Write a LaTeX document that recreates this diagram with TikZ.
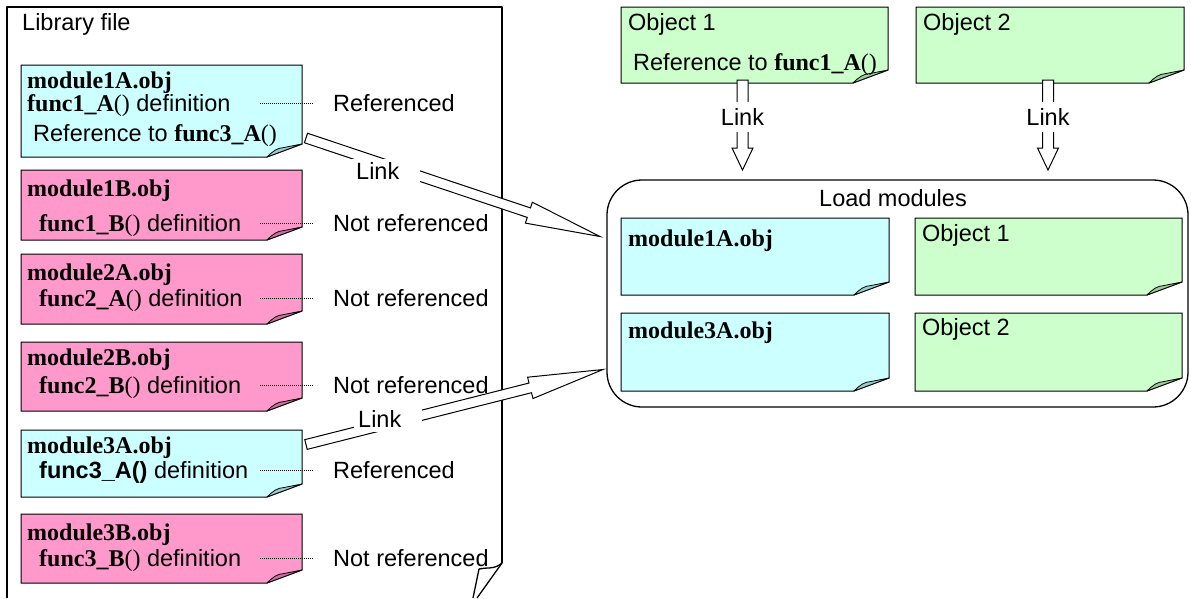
\documentclass[tikz,border=0pt]{standalone}
\usepackage{fontspec}
\setmainfont{Liberation Sans}
\newfontfamily\tms{Liberation Serif}
\usetikzlibrary{calc}

\definecolor{cyanfill}{HTML}{CCFFFF}
\definecolor{cyanflap}{HTML}{99CCCC}
\definecolor{pinkfill}{HTML}{FF99CC}
\definecolor{pinkflap}{HTML}{CC6E9E}
\definecolor{greenfill}{HTML}{CCFFCC}
\definecolor{greenflap}{HTML}{99CC99}

% serif bold / serif regular pieces used inside the sans text
\newcommand\tb[1]{{\tms\fontsize{24}{28}\selectfont\bfseries #1}}
\newcommand\tr[1]{{\tms\fontsize{24}{28}\selectfont #1}}

\tikzset{
  every node/.style={font=\fontsize{23.5}{28}\selectfont},
  notearea/.style={draw=none, inner sep=0pt, outer sep=0pt, anchor=north west},
  lbl/.style={anchor=west, inner sep=0pt, text height=17pt, text depth=0pt},
  dotline/.style={line width=1pt, dash pattern=on 1pt off 1pt},
  frame/.style={line width=1.3pt, line join=round},
  blockarr/.style={draw=black, fill=white, line width=1pt, line join=miter},
  linklab/.style={fill=white, inner ysep=4pt, text height=17pt, text depth=0pt},
}

% folded-corner note: name, x1, y1, x2, y2, colour prefix
\newcommand\notebox[6]{%
  \node[notearea, minimum width={(#4-#2)*1pt}, minimum height={(#5-#3)*1pt}] (#1) at (#2,#3) {};
  \filldraw[fill=#6fill, draw=black, line width=1pt, line join=miter]
    (#1.north west) -- (#1.north east) -- ([yshift=13pt]#1.south east)
    -- ([xshift=-35pt]#1.south east) -- (#1.south west) -- cycle;
  \filldraw[fill=#6flap, draw=black, line width=0.8pt, line join=round]
    ([xshift=-35pt]#1.south east)
    .. controls ([xshift=-29pt,yshift=6pt]#1.south east) and ([xshift=-25pt,yshift=9pt]#1.south east)
    .. ([xshift=-18pt,yshift=9.5pt]#1.south east) -- ([yshift=13pt]#1.south east) -- cycle;
}

% hollow block arrow: tail, tip, shaft half width, head half width, head length
\newcommand\blockarrow[5]{%
  \path[blockarr] let \p1=(#1), \p2=(#2),
      \n1={atan2(\y2-\y1,\x2-\x1)},
      \n2={veclen(\x2-\x1,\y2-\y1)-#5}
    in ($(\p1)+(\n1+90:#3pt)$)
    -- ($(\p1)+(\n1:\n2)+(\n1+90:#3pt)$)
    -- ($(\p1)+(\n1:\n2)+(\n1+90:#4pt)$)
    -- (\p2)
    -- ($(\p1)+(\n1:\n2)+(\n1-90:#4pt)$)
    -- ($(\p1)+(\n1:\n2)+(\n1-90:#3pt)$)
    -- ($(\p1)+(\n1-90:#3pt)$) -- cycle;
}

\begin{document}
\begin{tikzpicture}[x=1pt, y=-1pt]
\useasboundingbox (0,0) rectangle (1191,598);

% ---------- library file ----------
\draw[frame] (7,598) -- (7,7) -- (502,7) -- (502,563);
\draw[frame] (502,563) .. controls (494,570) and (486,567) .. (479,569) -- (473,598);
\draw[frame] (502,563) -- (477,598);
\node[lbl] (libtitle) at (22,22) {Library file};

\notebox{m1A}{21}{65}{302}{157}{cyan}
\notebox{m1B}{21}{170}{302}{240}{pink}
\notebox{m2A}{21}{254}{302}{324}{pink}
\notebox{m2B}{21}{342}{302}{411}{pink}
\notebox{m3A}{21}{430}{302}{497}{cyan}
\notebox{m3B}{21}{514}{302}{583}{pink}

\node[lbl] at (27,80)  {\tb{module1A.obj}};
\node[lbl] at (27,103) {\tb{func1\_A}\tr{()} definition};
\node[lbl] at (33,133) {Reference to \tb{func3\_A}\tr{()}};

\node[lbl] at (27,188) {\tb{module1B.obj}};
\node[lbl] at (39,223) {\tb{func1\_B}\tr{()} definition};

\node[lbl] at (27,272) {\tb{module2A.obj}};
\node[lbl] at (39,298) {\tb{func2\_A}\tr{()} definition};

\node[lbl] at (27,357) {\tb{module2B.obj}};
\node[lbl] at (39,385) {\tb{func2\_B}\tr{()} definition};

\node[lbl] at (27,445) {\tb{module3A.obj}};
\node[lbl] at (39,470) {{\bfseries func3\_A()} definition};

\node[lbl] at (27,532) {\tb{module3B.obj}};
\node[lbl] at (39,558) {\tb{func3\_B}\tr{()} definition};

% reference status of each module
\node[lbl] (s1) at (333,103) {Referenced};
\node[lbl] (s2) at (333,223) {Not referenced};
\node[lbl] (s3) at (333,298) {Not referenced};
\node[lbl] (s4) at (333,385) {Not referenced};
\node[lbl] (s5) at (333,470) {Referenced};
\node[lbl] (s6) at (333,558) {Not referenced};
\foreach \s/\y in {s1/103, s2/223, s3/298, s4/385, s5/470, s6/558}
  \draw[dotline] (260,\y) -- ([xshift=-20pt]\s.west);

% ---------- objects ----------
\notebox{ob1}{621}{7}{888}{83}{green}
\notebox{ob2}{916}{7}{1184}{83}{green}
\node[lbl] at (628,22) {Object 1};
\node[lbl] at (633,62) {Reference to \tb{func1\_A}\tr{()}};
\node[lbl] at (923,22) {Object 2};

% ---------- load modules ----------
\node[notearea, draw=black, line width=1.3pt, rounded corners=35pt,
      minimum width=581pt, minimum height=227pt] (load) at (607,180) {};
\node[lbl, anchor=center] (loadtitle) at (893,198) {Load modules};

\notebox{lm1}{621}{218}{889}{295}{cyan}
\notebox{lo1}{915}{218}{1182}{295}{green}
\notebox{lm3}{621}{313}{889}{391}{cyan}
\notebox{lo2}{915}{313}{1182}{391}{green}
\node[lbl] at (628,238) {\tb{module1A.obj}};
\node[lbl] at (922,233) {Object 1};
\node[lbl] at (628,330) {\tb{module3A.obj}};
\node[lbl] at (922,327) {Object 2};

% ---------- link arrows ----------
\coordinate (t1) at ($(m1A.east)+(4,27)$);
\coordinate (h1) at ($(load.west)+(-7,-57)$);
\coordinate (t2) at ($(m3A.east)+(4,-19)$);
\coordinate (h2) at ($(load.west)+(-4,76)$);
\coordinate (t3) at ($(ob1.south)+(-12,-3)$);
\coordinate (h3) at ($(load.north west)+(135.5,-10)$);
\coordinate (t4) at ($(ob2.south)+(-2,-3)$);
\coordinate (h4) at ($(load.north west)+(441,-10)$);

\blockarrow{t1}{h1}{5}{11}{75}
\blockarrow{t2}{h2}{5}{11}{75}
\blockarrow{t3}{h3}{5.5}{10.5}{22}
\blockarrow{t4}{h4}{5.5}{10.5}{22}

\node[linklab, anchor=west, inner xsep=4pt, text width=60pt, align=left] (k1) at (352,171) {Link};
\node[linklab, anchor=west, inner xsep=4pt, text width=60pt, align=left] (k2) at (354,419) {Link};
\node[linklab, inner xsep=2pt, minimum height=30pt] (k3) at (742.5,117) {Link};
\node[linklab, inner xsep=2pt, minimum height=30pt] (k4) at (1048,117) {Link};
\end{tikzpicture}
\end{document}
